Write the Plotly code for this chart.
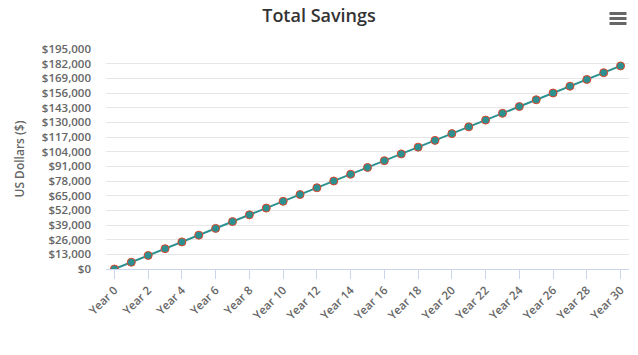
import plotly.graph_objects as go

years = [f"Year {i}" for i in range(31)]
savings = [0, 6000, 12000, 18000, 24000, 30000, 36000, 42000, 48000, 54000,
           60000, 66000, 72000, 78000, 84000, 90000, 96000, 102000, 108000, 114000,
           120000, 126000, 132000, 138000, 144000, 150000, 156000, 162000, 168000, 174000,
           180000]
y_ticks = list(range(0, 195001, 13000))
y_tick_labels = [f"${v:,}" for v in y_ticks]
x_tick_labels = [years[i] for i in range(0, 31, 2)]

fig = go.Figure()
fig.add_trace(go.Scatter(
    x=years, y=savings, mode="lines+markers",
    line=dict(color="#2b908f", width=2),
    marker=dict(size=8, color="#2b908f", line=dict(color="#e0442a", width=1)),
    hoverinfo="x+y", showlegend=False,
))

L, R, T, B = 106, 9, 49, 86
W, H = 638, 355
pw, ph = W - L - R, H - T - B

shapes = []
for py in (13.5, 18.5, 23.5):
    yp = (H - B - py) / ph
    shapes.append(dict(type="line", xref="paper", yref="paper",
                       x0=(609.5 - L) / pw, x1=(626.5 - L) / pw, y0=yp, y1=yp,
                       line=dict(color="#666666", width=3)))

fig.update_layout(
    width=W, height=H,
    margin=dict(l=L, r=R, t=T, b=B, autoexpand=False),
    paper_bgcolor="white", plot_bgcolor="white",
    font=dict(family="Open Sans, sans-serif", color="#666666", size=11),
    title=dict(text="Total Savings", x=0.5, xref="container", xanchor="center",
               y=1 - 16 / H, yanchor="middle",
               font=dict(size=18, color="#333333", family="Open Sans, sans-serif", weight=600)),
    xaxis=dict(
        type="category", range=[-0.5, 30.5], automargin=False,
        tickmode="array", tickvals=x_tick_labels, ticktext=x_tick_labels,
        tickangle=-45, ticks="outside", ticklen=9, tickcolor="#ccd6eb",
        showline=True, linecolor="#ccd6eb", linewidth=1,
        showgrid=False, zeroline=False,
        tickfont=dict(size=11.5, color="#666666", weight=600),
    ),
    yaxis=dict(
        range=[0, 195000], automargin=False,
        tickmode="array", tickvals=y_ticks, ticktext=y_tick_labels,
        showgrid=True, gridcolor="#e6e6e6", gridwidth=1, zeroline=False,
        ticks="", ticklabelstandoff=14,
        tickfont=dict(size=11.5, color="#666666", weight=600),
        title=dict(text="US Dollars ($)", font=dict(size=12, color="#666666", weight=600), standoff=14),
    ),
    shapes=shapes,
)

fig.write_html("out.html", config={"displayModeBar": False},
               post_script="document.body.style.margin='0';")
